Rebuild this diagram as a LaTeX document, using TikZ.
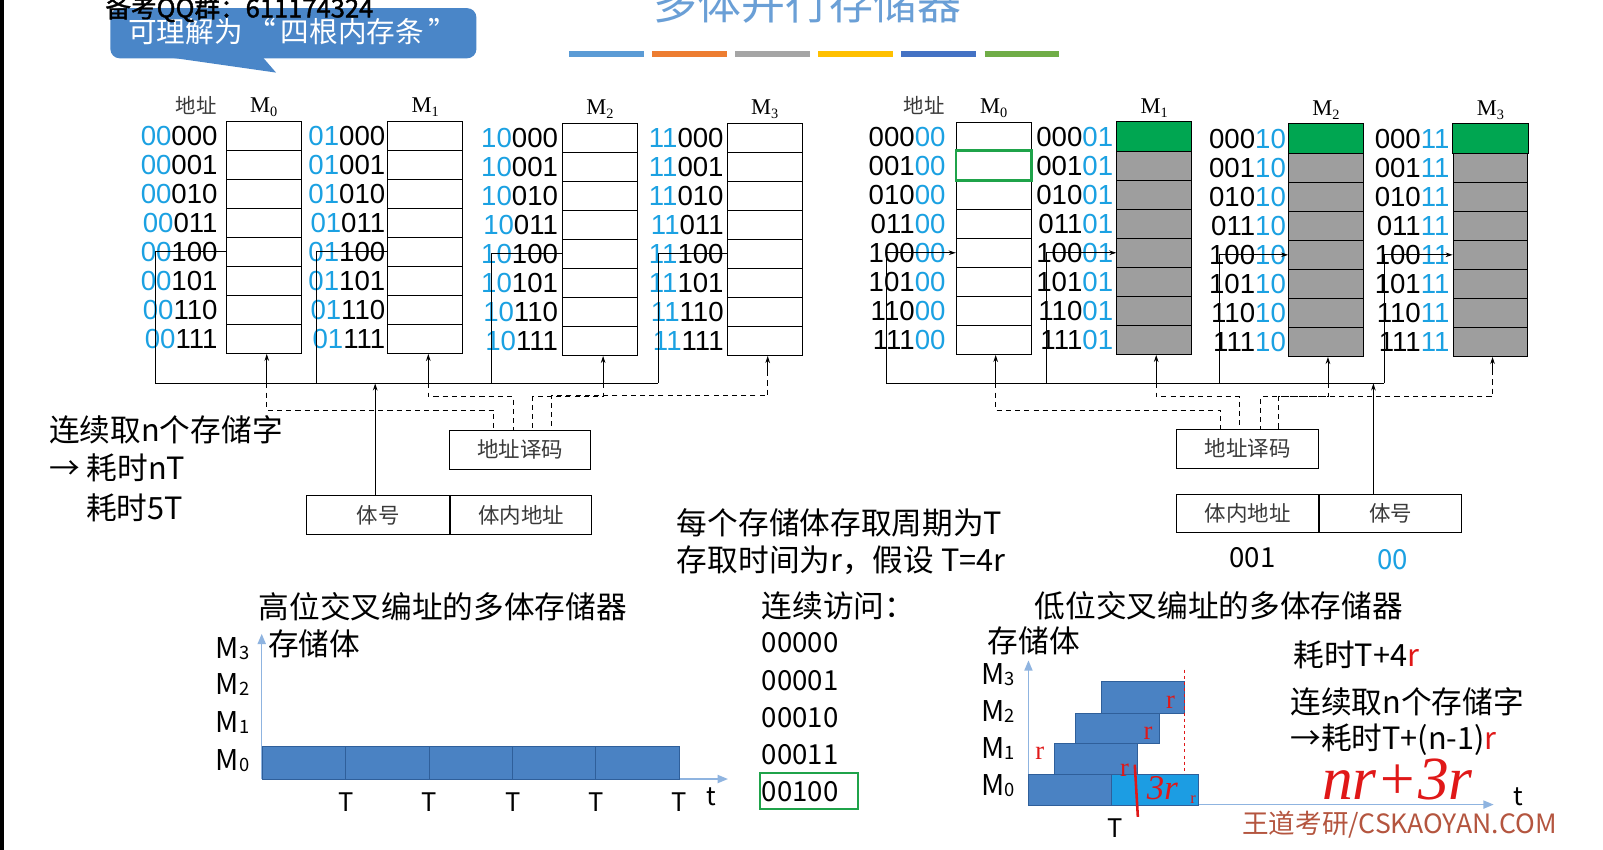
\documentclass[tikz,border=0pt]{standalone}
\usepackage{fontspec}
\setmainfont{Noto Sans CJK SC}
\newfontfamily\numfont{Liberation Sans}
\newfontfamily\romfont{Liberation Serif}
\newfontfamily\qqfont[FakeBold=1.5]{Noto Sans CJK SC}
\usetikzlibrary{positioning,arrows.meta}

\definecolor{addrblue}{HTML}{1BA1E2}
\definecolor{titleblue}{HTML}{6A9FD6}
\definecolor{callblue}{HTML}{4A86C8}
\definecolor{cellgray}{HTML}{9E9E9E}
\definecolor{cellgreen}{HTML}{00A651}
\definecolor{selgreen}{HTML}{1FA34A}
\definecolor{axisblue}{HTML}{8FB4E0}
\definecolor{barblue}{HTML}{4A82C3}
\definecolor{barbright}{HTML}{1C9DE3}
\definecolor{barline}{HTML}{2F5F9A}
\definecolor{markred}{HTML}{E01818}
\definecolor{wmbrown}{HTML}{B4553F}
\definecolor{labelgray}{HTML}{3A3A3A}
\definecolor{strip1}{HTML}{5B9BD5}
\definecolor{strip2}{HTML}{ED7D31}
\definecolor{strip3}{HTML}{A5A5A5}
\definecolor{strip4}{HTML}{FFC000}
\definecolor{strip5}{HTML}{4472C4}
\definecolor{strip6}{HTML}{70AD47}

\newcommand{\bluebits}[1]{\textcolor{addrblue}{#1}}
\newcommand{\redr}{\textcolor{markred}{r}}
\newcommand{\Mhead}[1]{{\romfont M\raisebox{-4pt}{\fontsize{14}{14}\selectfont #1}}}
\newcommand{\Mchart}[1]{M\raisebox{-1pt}{\fontsize{18}{18}\selectfont #1}}

\begin{document}
\begin{tikzpicture}[x=1pt,y=-1pt,
  cell/.style={draw,line width=0.9pt,minimum width=73pt,minimum height=28.4pt,
    inner sep=0pt,anchor=north west},
  addr/.style={anchor=east,inner sep=1pt,font=\numfont\fontsize{27}{27}\selectfont},
  mhead/.style={anchor=base,font=\fontsize{22}{22}\selectfont},
  unit/.style={draw,line width=0.9pt,minimum height=38pt,inner sep=0pt,
    text=labelgray,font=\fontsize{21}{21}\selectfont},
  bus/.style={line width=0.9pt},
  sel/.style={line width=0.9pt,-{Stealth[length=7pt,width=4.5pt]}},
  ctl/.style={line width=0.9pt,dash pattern=on 5pt off 4pt},
  txt/.style={anchor=west,inner sep=0pt,font=\fontsize{30}{32}\selectfont},
  num/.style={anchor=west,inner sep=0pt,font=\fontsize{27}{28}\selectfont},
  axis/.style={draw=axisblue,line width=1.3pt,-{Triangle[length=10pt,width=8pt]}},
  blk/.style={draw=barline,fill=barblue,line width=0.8pt,inner sep=0pt,anchor=north west},
  mlab/.style={anchor=east,inner sep=0pt,font=\fontsize{28}{28}\selectfont},
  tlab/.style={inner sep=0pt,font=\fontsize{25}{25}\selectfont},
  rmark/.style={text=markred,inner sep=0pt,font=\romfont\fontsize{26}{26}\selectfont}
]
\useasboundingbox (0,0) rectangle (1568,831);
\clip (0,0) rectangle (1568,831);
\fill[white] (0,0) rectangle (1568,831);
\fill[black] (0,0) rectangle (4,831);

% title, colour strip, callout
\node[anchor=base,text=titleblue,font=\fontsize{43}{43}\selectfont] (title) at (790,19) {多体并行存储器};
\foreach \c [count=\i from 0] in {strip1,strip2,strip3,strip4,strip5,strip6}
  \draw[\c,line width=6pt] ({557+\i*81.2},53) -- ++(73,0);
\fill[callblue,rounded corners=9pt] (108,8) rectangle (466,57);
\fill[callblue] (165,56) -- (270,71) -- (257,56) -- cycle;
\node[anchor=west,text=white,font=\fontsize{28}{28}\selectfont] (hint) at (122,31) {可理解为\,“\,四根内存条\,”};
\node[anchor=base west,inner sep=0pt,font=\qqfont\fontsize{25}{25}\selectfont] (qq) at (103,17) {备考QQ群：611174324};

% high-order interleaving
\node[mhead,text=labelgray,font=\fontsize{20}{20}\selectfont] (Haddr) at (192,111) {地址};
\foreach \b/\x/\y/\p/\g in {0/221/118/00/7,1/379/118/01/1,2/550/120/10/3,3/711/120/11/2}{
  \foreach \s [count=\i from 0] in {000,001,010,011,100,101,110,111}{
    \node[cell] (H\b-\i) at (\x,{\y+\i*28.4}) {};
    \node[addr] (Ha\b-\i) at ([xshift=-\g pt]H\b-\i.west) {\bluebits{\p}\s};
  }
  \node[mhead] (Hm\b) at ([yshift=8pt]H\b-0.north) {\Mhead{\b}};
}
\foreach \b/\x in {0/152,1/310,2/481,3/644}
  \coordinate (Hb\b) at (\x,375);
\draw[bus] (Hb0) -- (Hb3);
\foreach \b in {0,...,3}
  \draw[bus] (H\b-4.west) -| (Hb\b);

\node[unit,minimum width=138pt] (Hdec) at (509,440) {地址译码};
\node[unit,minimum width=140pt] (Hno) at (370,504) {体号};
\node[unit,minimum width=138pt,right=0pt of Hno] (Hin) {体内地址};

\foreach \b/\dx in {0/-26,1/-7,2/12,3/30}
  \coordinate (Hi\b) at ([xshift=\dx pt]Hdec.north);
\foreach \b in {0,...,3}
  \coordinate (Hu\b) at ([xshift=3pt]H\b-7.south);
\foreach \b in {0,1,2}
  \draw[sel] (Hu\b |- Hb0) -- (Hu\b);
\draw[sel] ([yshift=-15pt]Hu3) -- (Hu3);
\draw[ctl] (Hu0 |- Hb0) -- ++(0,26) -| (Hi0);
\draw[ctl] (Hu1 |- Hb0) -- ++(0,13) -| (Hi1);
\draw[ctl] (Hu2 |- Hb0) -- ++(0,13) -| (Hi2);
\draw[ctl] ([yshift=-15pt]Hu3) -- ++(0,24) -| (Hi3);
\coordinate (Hup) at ([xshift=-3pt]Hno.north);
\draw[sel] (Hup) -- (Hup |- Hb0);

% low-order interleaving
\node[mhead,text=labelgray,font=\fontsize{20}{20}\selectfont] (Laddr) at (904,111) {地址};
\foreach \b/\x/\y/\p/\g/\f in {0/935/119/00/9/white,1/1092/119/01/2/cellgray,2/1260/121/10/1/cellgray,3/1421/121/11/2/cellgray}{
  \foreach \s [count=\i from 0] in {000,001,010,011,100,101,110,111}{
    \node[cell,fill=\f] (L\b-\i) at (\x,{\y+\i*28.4}) {};
    \node[addr] (La\b-\i) at ([xshift=-\g pt]L\b-\i.west) {\s\bluebits{\p}};
  }
  \node[mhead] (Lm\b) at ([yshift=8pt]L\b-0.north) {\Mhead{\b}};
}
\foreach \b in {1,2,3}
  \filldraw[fill=cellgreen,draw=black,line width=0.9pt] (L\b-0.north west) rectangle (L\b-0.south east);
\draw[selgreen,line width=2.5pt] (L0-1.north west) rectangle (L0-1.south east);

\foreach \b/\x in {0/867,1/1024,2/1193,3/1354}
  \coordinate (Lb\b) at (\x,375);
\draw[bus] (Lb0) -- (Lb3);
\foreach \b in {0,...,3}
  \draw[sel] (Lb\b) |- (L\b-4.west);

\node[unit,minimum width=139pt] (Ldec) at (1220.5,439) {地址译码};
\node[unit,minimum width=139pt,minimum height=37pt] (Lin) at (1220.5,502.5) {体内地址};
\node[unit,minimum width=139pt,minimum height=37pt,right=0pt of Lin] (Lno) {体号};

\foreach \b/\dx in {0/-26.5,1/-8.5,2/12.5,3/30.5}
  \coordinate (Li\b) at ([xshift=\dx pt]Ldec.north);
\foreach \b in {0,...,3}
  \coordinate (Lu\b) at ([xshift=2pt]L\b-7.south);
\foreach \b in {0,1,2}
  \draw[sel] (Lu\b |- Lb0) -- (Lu\b);
\draw[sel] ([yshift=-13pt]Lu3) -- (Lu3);
\draw[ctl] (Lu0 |- Lb0) -- ++(0,26) -| (Li0);
\draw[ctl] (Lu1 |- Lb0) -- ++(0,13) -| (Li1);
\draw[ctl] (Lu2 |- Lb0) -- ++(0,13) -| (Li2);
\draw[ctl] ([yshift=-13pt]Lu3) -- ++(0,26) -| (Li3);
\coordinate (Lup) at ([xshift=-17pt]Lno.north);
\draw[sel] (Lup) -- (Lup |- Lb0);
\node[num,anchor=center] (Lbits) at (1225,545) {001};
\node[num,anchor=center,text=addrblue] (Lbank) at (1362,547) {00};

% notes
\node[txt] (lt1) at (48,420) {连续取n个存储字};
\node[txt] (lt2) at (48,458) {→ 耗时nT};
\node[txt] (lt3) at (84,497) {耗时5T};
\node[txt] (cycle) at (662,511) {每个存储体存取周期为T};
\node[txt] (access) at (662,548) {存取时间为r，假设 T=4r};

% timing, high-order
\node[txt] (Htitle) at (253,593) {高位交叉编址的多体存储器};
\coordinate (Ho) at (256,762);
\coordinate (Hy) at (256,620);
\coordinate (Hx) at (712,762);
\draw[axis] (Ho) -- (Hy);
\draw[axis] (Ho) -- (Hx);
\node[txt] (Hbody) at (262,630) {存储体};
\foreach \m/\yy in {3/634,2/670,1/707,0/744}
  \node[mlab] (Hl\m) at (244,\yy) {\Mchart{\m}};
\foreach \i in {0,...,4}{
  \node[blk,minimum width=81.6pt,minimum height=32pt] (Hk\i) at ({256+\i*81.6},730) {};
  \node[tlab,anchor=north] (Ht\i) at ([yshift=-12pt]Hk\i.south east) {T};
}
\node[tlab] (Ht) at (696,779) {t};

% sequential accesses
\node[txt] (seqhead) at (745,593) {连续访问：};
\foreach \a [count=\i from 0] in {00000,00001,00010,00011,00100}
  \node[num] (seq\i) at (745,{629+\i*36.3}) {\a};
\node[draw=selgreen,line width=2pt,minimum width=96pt,minimum height=35pt,anchor=west] (seqbox) at (742,774) {};

% timing, low-order
\node[txt] (Ltitle) at (1012,593) {低位交叉编址的多体存储器};
\node[txt] (Lbody) at (966,627) {存储体};
\coordinate (Lo) at (1006,787);
\coordinate (Ly) at (1006,646);
\coordinate (Lx) at (1461,787);
\draw[axis] (Lo) -- (Ly);
\draw[axis] (Lo) -- (Lx);
\foreach \m/\yy in {3/660,2/696,1/732,0/768}
  \node[mlab] (Ll\m) at (993,\yy) {\Mchart{\m}};
\node[blk,minimum width=81pt,minimum height=30pt] (Lk0) at (1006,757) {};
\node[blk,fill=barbright,minimum width=85pt,minimum height=30pt] (Lk4) at (1087,757) {};
\node[blk,minimum width=81pt,minimum height=30pt] (Lk1) at (1031,727) {};
\node[blk,minimum width=82pt,minimum height=30pt] (Lk2) at (1052,697) {};
\node[blk,minimum width=81pt,minimum height=31pt] (Lk3) at (1077,666) {};
\coordinate (Lred) at ([yshift=11pt]Lk3.north east);
\draw[markred,dashed,line width=0.6pt] (Lred) -- (Lred |- Lk4.north);
\node[rmark] (r3) at (1145,687) {r};
\node[rmark] (r2) at (1123,717) {r};
\node[rmark] (r1) at (1017,737) {r};
\node[rmark] (r0) at (1100,753) {r};
\node[rmark,font=\romfont\fontsize{16}{16}\selectfont] (rs) at (1167,782) {r};
\draw[markred,line width=2.5pt] (1110,748) -- (1113,799);
\node[rmark,font=\romfont\itshape\fontsize{34}{34}\selectfont] (hw1) at (1137,771) {3r};
\node[rmark,font=\romfont\itshape\fontsize{60}{60}\selectfont] (hw2) at (1367,762) {nr+3r};
\node[tlab] (LT) at (1091,810) {T};
\node[tlab] (Lt) at (1485,779) {t};

\node[txt] (cost1) at (1265,641) {耗时T+4\redr};
\node[txt] (cost2) at (1262,686) {连续取n个存储字};
\node[txt] (cost3) at (1262,723) {→耗时T+(n-1)\redr};
\node[anchor=west,inner sep=0pt,text=wmbrown,font=\fontsize{26}{26}\selectfont] (wm) at (1215,807) {王道考研/CSKAOYAN.COM};
\end{tikzpicture}
\end{document}
